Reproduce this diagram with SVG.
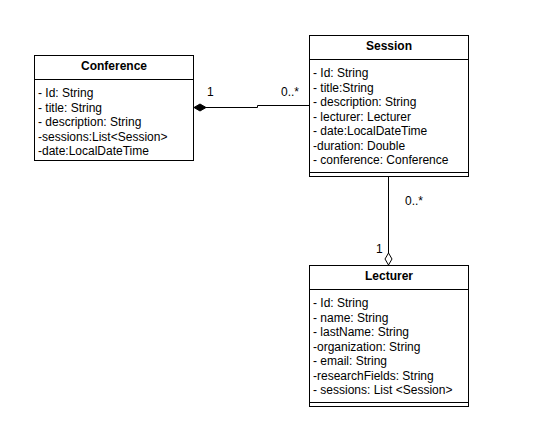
<svg xmlns="http://www.w3.org/2000/svg" width="556" height="431" viewBox="0 0 556 431">
<style>
.box{fill:#fff;stroke:#000;stroke-width:1}
.ln{stroke:#000;stroke-width:1;fill:none}
.t{font-family:"Liberation Sans",Arial,sans-serif;font-size:12px;fill:#000}
.h{font-family:"Liberation Sans",Arial,sans-serif;font-size:12px;font-weight:bold;fill:#000;text-anchor:middle}
</style>
<rect width="556" height="431" fill="#fff"/>
<g id="connectors">
<path class="ln" d="M206,107.5 H257.5 V105.5 H309"/>
<path d="M194,107.5 L200,104 L206,107.5 L200,111 Z" fill="#000" stroke="#000"/>
<path class="ln" d="M388.5,177 V253"/>
<path d="M388.5,253 L392,259 L388.5,265 L385,259 Z" fill="#fff" stroke="#000"/>
<text class="t" x="207" y="96">1</text>
<text class="t" x="281" y="96">0..*</text>
<text class="t" x="405" y="205">0..*</text>
<text class="t" x="376" y="253">1</text>
</g>
<g id="conference">
<rect class="box" x="34.5" y="55.5" width="159" height="105"/>
<path class="ln" d="M34.5,79.5 H193.5"/>
<text class="h" x="114" y="70">Conference</text>
<text class="t" x="38" y="97">- Id: String</text>
<text class="t" x="38" y="111.5">- title: String</text>
<text class="t" x="38" y="126">- description: String</text>
<text class="t" x="38" y="140.5">-sessions:List&lt;Session&gt;</text>
<text class="t" x="38" y="155">-date:LocalDateTime</text>
</g>
<g id="session">
<rect class="box" x="309.5" y="35.5" width="159" height="141"/>
<path class="ln" d="M309.5,59.5 H468.5 M309.5,172.5 H468.5"/>
<text class="h" x="389" y="50">Session</text>
<text class="t" x="313" y="77">- Id: String</text>
<text class="t" x="313" y="91.5">- title:String</text>
<text class="t" x="313" y="106">- description: String</text>
<text class="t" x="313" y="120.5">- lecturer: Lecturer</text>
<text class="t" x="313" y="135">- date:LocalDateTime</text>
<text class="t" x="313" y="149.5">-duration: Double</text>
<text class="t" x="313" y="164">- conference: Conference</text>
</g>
<g id="lecturer">
<rect class="box" x="309.5" y="265.5" width="159" height="141"/>
<path class="ln" d="M309.5,289.5 H468.5 M309.5,402.5 H468.5"/>
<text class="h" x="389" y="280">Lecturer</text>
<text class="t" x="313" y="307">- Id: String</text>
<text class="t" x="313" y="321.5">- name: String</text>
<text class="t" x="313" y="336">- lastName: String</text>
<text class="t" x="313" y="350.5">-organization: String</text>
<text class="t" x="313" y="365">- email: String</text>
<text class="t" x="313" y="379.5">-researchFields: String</text>
<text class="t" x="313" y="394">- sessions: List &lt;Session&gt;</text>
</g>
</svg>
